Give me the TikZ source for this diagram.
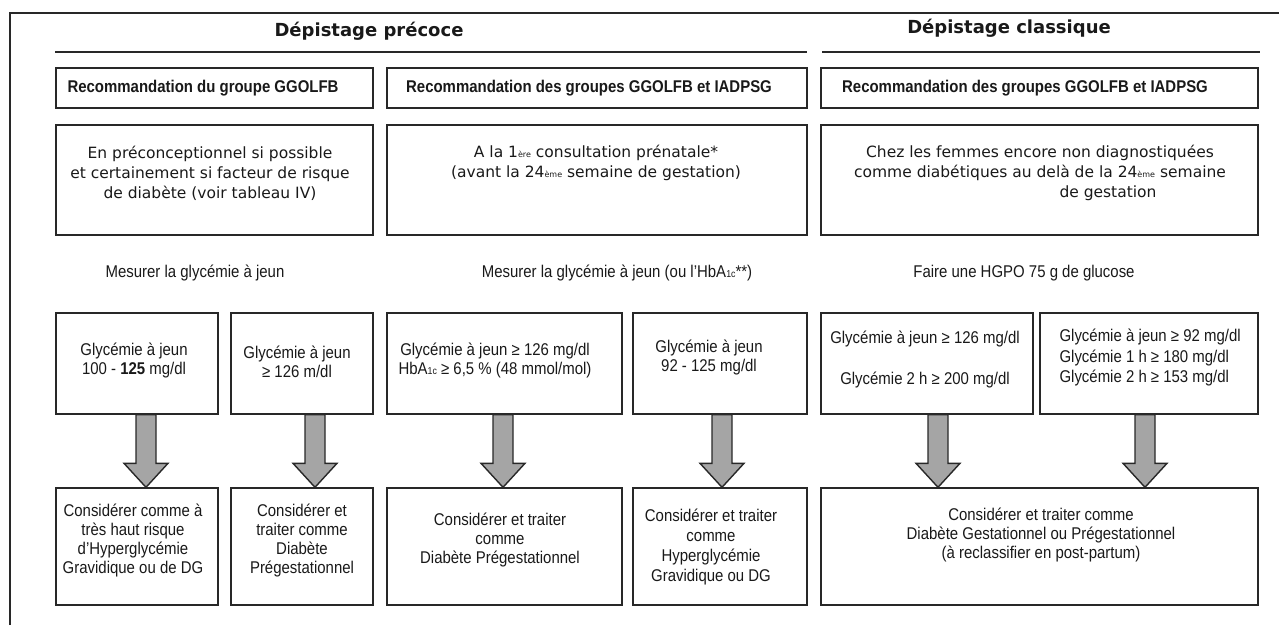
\documentclass[tikz,border=0pt]{standalone}
\usepackage{fontspec}
\setmainfont{DejaVu Sans}
\newfontfamily\narrowfont[FakeStretch=0.88]{Liberation Sans}
\usetikzlibrary{calc,fit}

\definecolor{trait}{RGB}{40,40,40}
\definecolor{flechegris}{RGB}{165,165,165}

\newcommand{\petit}[1]{{\fontsize{8}{8}\selectfont #1}}
\newcommand{\indice}[1]{{\fontsize{10}{10}\selectfont #1}}
% grosse fleche grise : abscisse, boite de depart, boite d'arrivee
\newcommand{\grosfleche}[3]{%
  \path (#2.south -| #1,0) coordinate (ft) (#3.north -| #1,0) coordinate (fb);
  \draw[fleche] ($(ft)+(-10,0)$) -- ($(fb)+(-10,-24)$) -- ($(fb)+(-22,-24)$) -- (fb)
    -- ($(fb)+(22,-24)$) -- ($(fb)+(10,-24)$) -- ($(ft)+(10,0)$) -- cycle;}

\tikzset{
  boite/.style={draw=trait, line width=1.4pt, inner sep=0pt},
  titre/.style={font=\fontsize{18}{22}\selectfont\bfseries, text=black!90},
  reco/.style={font=\narrowfont\bfseries\fontsize{17}{19}\selectfont, text=black!90},
  texte/.style={font=\fontsize{15.5}{20}\selectfont, align=center, text=black!90},
  etroit/.style={font=\narrowfont\fontsize{17}{19}\selectfont, align=center, text=black!90},
  fleche/.style={draw=trait, line width=1.4pt, fill=flechegris, line join=miter},
  filet/.style={draw=trait, line width=2pt}
}

\begin{document}
\begin{tikzpicture}[x=1pt,y=-1pt]
\useasboundingbox (0,0) rectangle (1279,625);
\draw[filet] (10,625) -- (10,13) -- (1279,13);

\node[titre] (precoce) at (369,31) {Dépistage précoce};
\node[titre] (classique) at (1009,28) {Dépistage classique};
\draw[filet] (55,52) -- (807,52);
\draw[filet] (822,52) -- (1260,52);

% recommandations
\node[boite, fit={(56,68) (373,108)}] (recA) {};
\node[boite, fit={(387,68) (807,108)}] (recB) {};
\node[boite, fit={(821,68) (1258,108)}] (recC) {};
\node[reco] (recAt) at (203,88) {Recommandation du groupe GGOLFB};
\node[reco] (recBt) at (589,88) {Recommandation des groupes GGOLFB et IADPSG};
\node[reco] (recCt) at (1025,88) {Recommandation des groupes GGOLFB et IADPSG};

% periodes
\node[boite, fit={(56,125) (373,235)}] (quandA) {};
\node[boite, fit={(387,125) (807,235)}] (quandB) {};
\node[boite, fit={(821,125) (1258,235)}] (quandC) {};
\node[texte] (quandAt) at (210,173) {En préconceptionnel si possible\\et certainement si facteur de risque\\de diabète (voir tableau IV)};
\node[texte] (quandBt) at (596,163) {A la 1\petit{ère} consultation prénatale*\\(avant la 24\petit{ème} semaine de gestation)};
\node[texte] (quandCt) at (1040,173) {Chez les femmes encore non diagnostiquées\\comme diabétiques au delà de la 24\petit{ème} semaine\\\hspace*{136pt}de gestation};

% examens
\node[etroit] (mesA) at (195,273) {Mesurer la glycémie à jeun};
\node[etroit] (mesB) at (617,273) {Mesurer la glycémie à jeun (ou l’HbA\indice{1c}**)};
\node[etroit] (mesC) at (1024,273) {Faire une HGPO 75 g de glucose};

% seuils
\node[boite, fit={(56,313) (218,414)}] (glyA) {};
\node[boite, fit={(231,313) (373,414)}] (glyB) {};
\node[boite, fit={(387,313) (622,414)}] (glyC) {};
\node[boite, fit={(633,313) (807,414)}] (glyD) {};
\node[boite, fit={(821,313) (1033,414)}] (glyE) {};
\node[boite, fit={(1040,313) (1258,414)}] (glyF) {};
\node[etroit] (glyAt) at (134,360) {Glycémie à jeun\\100 - \textbf{125} mg/dl};
\node[etroit] (glyBt) at (297,362) {Glycémie à jeun\\≥ 126 m/dl};
\node[etroit] (glyCt) at (495,360) {Glycémie à jeun ≥ 126 mg/dl\\HbA\indice{1c} ≥ 6,5 \% (48 mmol/mol)};
\node[etroit] (glyDt) at (709,357) {Glycémie à jeun\\92 - 125 mg/dl};
\node[etroit] (glyEt) at (925,359.5) {Glycémie à jeun ≥ 126 mg/dl\\[22pt]Glycémie 2 h ≥ 200 mg/dl};
\node[etroit, align=left, anchor=west, font=\narrowfont\fontsize{17}{20.5}\selectfont] (glyFt) at (1056,357.5) {Glycémie à jeun ≥ 92 mg/dl\\Glycémie 1 h ≥ 180 mg/dl\\Glycémie 2 h ≥ 153 mg/dl};

% conduites
\node[boite, fit={(56,488) (218,605)}] (consA) {};
\node[boite, fit={(231,488) (373,605)}] (consB) {};
\node[boite, fit={(387,488) (622,605)}] (consC) {};
\node[boite, fit={(633,488) (807,605)}] (consD) {};
\node[boite, fit={(821,488) (1258,605)}] (consE) {};
\node[etroit] (consAt) at (133,540.5) {Considérer comme à\\très haut risque\\d’Hyperglycémie\\Gravidique ou de DG};
\node[etroit] (consBt) at (302,540.5) {Considérer et\\traiter comme\\Diabète\\Prégestationnel};
\node[etroit] (consCt) at (500,540) {Considérer et traiter\\comme\\Diabète Prégestationnel};
\node[etroit, font=\narrowfont\fontsize{17}{20}\selectfont] (consDt) at (711,547) {Considérer et traiter\\comme\\Hyperglycémie\\Gravidique ou DG};
\node[etroit] (consEt) at (1041,535) {Considérer et traiter comme\\Diabète Gestationnel ou Prégestationnel\\(à reclassifier en post-partum)};

\grosfleche{146}{glyA}{consA}
\grosfleche{315}{glyB}{consB}
\grosfleche{503}{glyC}{consC}
\grosfleche{722}{glyD}{consD}
\grosfleche{938}{glyE}{consE}
\grosfleche{1145}{glyF}{consE}
\end{tikzpicture}
\end{document}
